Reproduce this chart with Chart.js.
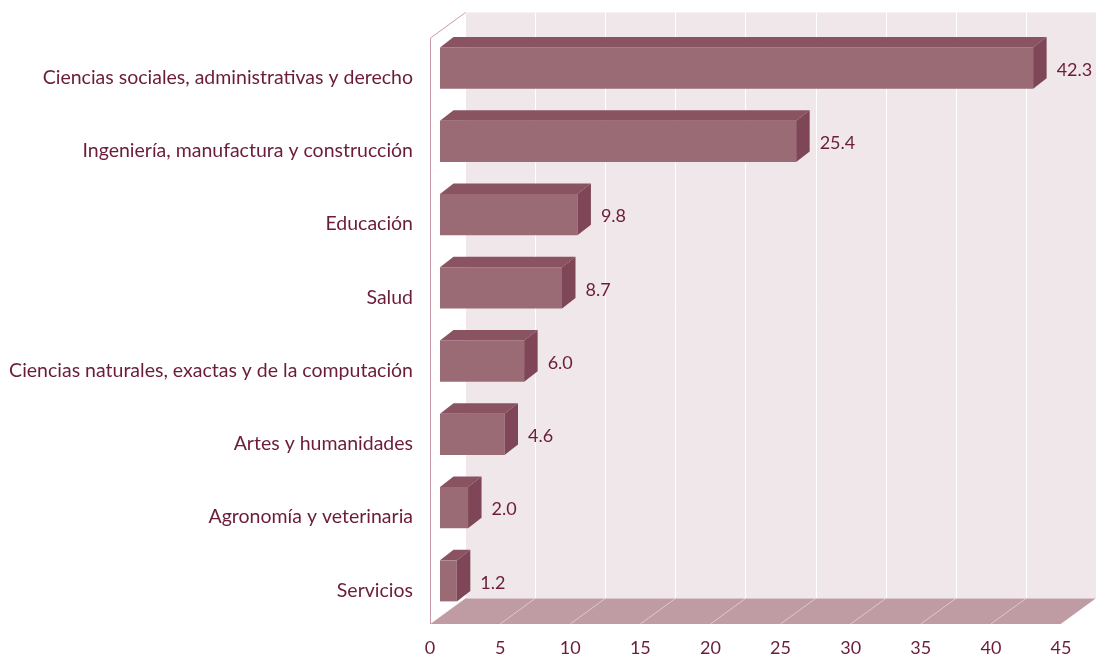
<!DOCTYPE html>
<html>
<head>
<meta charset="utf-8">
<script src="https://cdn.jsdelivr.net/npm/chart.js@4"></script>
<style>
  html, body { margin: 0; padding: 0; background: #fff; }
  canvas { display: block; }
</style>
</head>
<body>
<canvas id="areasChart" width="1096" height="659"></canvas>
<script>
const categories = [
    'Ciencias sociales, administrativas y derecho',
    'Ingeniería, manufactura y construcción',
    'Educación',
    'Salud',
    'Ciencias naturales, exactas y de la computación',
    'Artes y humanidades',
    'Agronomía y veterinaria',
    'Servicios',
];
const values = [42.3, 25.4, 9.8, 8.7, 6.0, 4.6, 2.0, 1.2];
const xMin = 0;
const xMax = 45;
const xStep = 5;

const TEXT = '#6b1c3a';
const WALL = { x: 35, y: -25.5 };   // depth of the back wall
const FRONT = { x: 10, y: -6.5 };   // where the bar front faces sit
const BOX = { x: 13.5, y: -10.5 };  // depth of each bar

const box3d = {
    id: 'box3d',
    beforeDatasetsDraw(chart) {
        const { ctx, chartArea: a, scales: { x } } = chart;
        ctx.save();
        // back wall
        ctx.fillStyle = '#efe7e9';
        ctx.fillRect(a.left + WALL.x, a.top + WALL.y, a.right - a.left, a.bottom - a.top);
        ctx.strokeStyle = '#ffffff';
        ctx.lineWidth = 1;
        x.ticks.forEach(t => {
            const px = Math.round(x.getPixelForValue(t.value) + WALL.x) + 0.5;
            ctx.beginPath();
            ctx.moveTo(px, a.top + WALL.y);
            ctx.lineTo(px, a.bottom + WALL.y);
            ctx.stroke();
        });
        // floor
        ctx.fillStyle = '#bf9ca3';
        ctx.beginPath();
        ctx.moveTo(a.left, a.bottom);
        ctx.lineTo(a.right, a.bottom);
        ctx.lineTo(a.right + WALL.x, a.bottom + WALL.y);
        ctx.lineTo(a.left + WALL.x, a.bottom + WALL.y);
        ctx.closePath();
        ctx.fill();
        ctx.strokeStyle = 'rgba(255,255,255,0.45)';
        x.ticks.forEach(t => {
            const px = x.getPixelForValue(t.value);
            ctx.beginPath();
            ctx.moveTo(px, a.bottom);
            ctx.lineTo(px + WALL.x, a.bottom + WALL.y);
            ctx.stroke();
        });
        // left wall outline
        ctx.strokeStyle = '#c99aa6';
        ctx.beginPath();
        ctx.moveTo(a.left + 0.5, a.bottom);
        ctx.lineTo(a.left + 0.5, a.top);
        ctx.lineTo(a.left + WALL.x + 0.5, a.top + WALL.y);
        ctx.stroke();
        ctx.restore();
        // bars are pushed back into the box
        ctx.save();
        ctx.translate(FRONT.x, FRONT.y);
    },
    afterDatasetsDraw(chart) {
        const ctx = chart.ctx;
        ctx.restore();
        ctx.save();
        ctx.font = '18px Lato';
        ctx.textBaseline = 'middle';
        chart.getDatasetMeta(0).data.forEach((bar, i) => {
            const p = bar.getProps(['x', 'y', 'base', 'height'], true);
            const l = p.base + FRONT.x, r = p.x + FRONT.x;
            const t = p.y - p.height / 2 + FRONT.y, b = p.y + p.height / 2 + FRONT.y;
            // top face
            ctx.fillStyle = '#8a5362';
            ctx.beginPath();
            ctx.moveTo(l, t);
            ctx.lineTo(r, t);
            ctx.lineTo(r + BOX.x, t + BOX.y);
            ctx.lineTo(l + BOX.x, t + BOX.y);
            ctx.closePath();
            ctx.fill();
            // side face
            ctx.fillStyle = '#7e4656';
            ctx.beginPath();
            ctx.moveTo(r, t);
            ctx.lineTo(r + BOX.x, t + BOX.y);
            ctx.lineTo(r + BOX.x, b + BOX.y);
            ctx.lineTo(r, b);
            ctx.closePath();
            ctx.fill();
            // value
            ctx.fillStyle = TEXT;
            ctx.fillText(values[i].toFixed(1), r + BOX.x + 10, (t + b) / 2 + 2);
        });
        ctx.restore();
    },
};

new Chart(document.getElementById('areasChart'), {
    type: 'bar',
    data: {
        labels: categories,
        datasets: [{
            data: values,
            backgroundColor: '#9a6b74',
            borderWidth: 0,
            barPercentage: 0.56,
            categoryPercentage: 1,
            clip: false,
        }],
    },
    options: {
        indexAxis: 'y',
        responsive: false,
        animation: false,
        layout: { padding: { top: 38, right: 35, left: 0, bottom: 0 } },
        plugins: { legend: { display: false }, tooltip: { enabled: false } },
        scales: {
            x: {
                min: xMin,
                max: xMax,
                grid: { display: false, drawTicks: false },
                border: { display: false },
                ticks: { stepSize: xStep, color: TEXT, font: { family: 'Lato', size: 18 }, padding: 13 },
                afterFit: s => { s.height = 35; },
            },
            y: {
                grid: { display: false, drawTicks: false },
                border: { display: false },
                ticks: { color: TEXT, font: { family: 'Lato', size: 19.5 }, padding: 17, labelOffset: 3 },
                afterFit: s => { s.width = 430; },
            },
        },
    },
    plugins: [box3d],
});
</script>
</body>
</html>
